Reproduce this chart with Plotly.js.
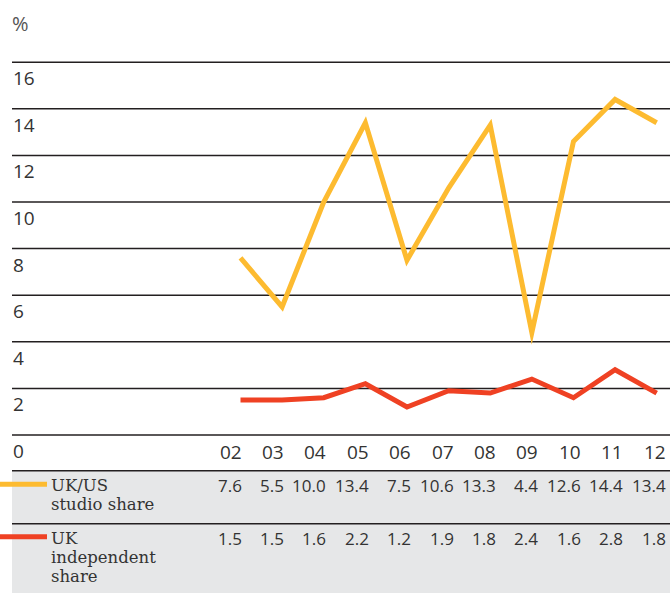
<!DOCTYPE html>
<html>
<head>
<meta charset="utf-8">
<script src="https://cdn.plot.ly/plotly-3.0.1.min.js"></script>
<style>
html,body{margin:0;padding:0;background:#fff;}
#chart{width:670px;height:593px;}
.scatterlayer path.js-line{stroke-linejoin:miter !important;stroke-miterlimit:10 !important;stroke-linecap:butt !important;}
</style>
</head>
<body>
<div id="chart"></div>
<script>
// ---- data ----
const years = ["02","03","04","05","06","07","08","09","10","11","12"];
const studioShare = [7.6, 5.5, 10.0, 13.4, 7.5, 10.6, 13.3, 4.4, 12.6, 14.4, 13.4];
const independentShare = [1.5, 1.5, 1.6, 2.2, 1.2, 1.9, 1.8, 2.4, 1.6, 2.8, 1.8];
const yTicks = [0, 2, 4, 6, 8, 10, 12, 14, 16];
const seriesNames = [["UK/US", "studio share"], ["UK", "independent", "share"]];

// ---- layout helpers ----
const W = 670, H = 593;
const ORANGE = "#FDBB30", RED = "#EF4123", GRID = "#231f20", TXT = "#333333", GRAY = "#e6e7e8";
const numFont = {family: "Open Sans, Lato, sans-serif", size: 19, color: TXT};
const tabFont = {family: "Open Sans, Lato, sans-serif", size: 17, color: TXT};
const serifFont = {family: "DejaVu Serif, Liberation Serif, serif", size: 16.5, color: TXT};
const px = x => x / W;            // pixel x -> paper
const py = y => 1 - y / H;        // pixel y -> paper
const colRight = i => px(243.5 + 42.4 * i);

const idx = years.map((_, i) => i);

const traces = [
  {x: idx, y: studioShare, type: "scatter", mode: "lines", line: {color: ORANGE, width: 5}, hoverinfo: "skip"},
  {x: idx, y: independentShare, type: "scatter", mode: "lines", line: {color: RED, width: 5}, hoverinfo: "skip"}
];

const shapes = [];
const annotations = [];

// table background & separators
shapes.push({type: "rect", xref: "paper", yref: "paper", x0: px(12), x1: 1, y0: 0, y1: py(470.7), fillcolor: GRAY, line: {width: 0}, layer: "below"});
[470.7, 523.7].forEach(y => shapes.push({type: "line", xref: "paper", yref: "paper", x0: px(12), x1: 1, y0: py(y), y1: py(y), line: {color: GRID, width: 1.5}}));

// gridlines and y labels
yTicks.forEach(v => {
  shapes.push({type: "line", xref: "paper", yref: "y", x0: px(12), x1: 1, y0: v, y1: v, line: {color: GRID, width: 1.5}, layer: "below"});
  annotations.push({xref: "paper", yref: "y", x: px(10.5), y: v, yshift: -16, text: String(v), showarrow: false, xanchor: "left", yanchor: "middle", font: numFont});
});
annotations.push({xref: "paper", yref: "paper", x: px(10), y: py(24), text: "%", showarrow: false, xanchor: "left", yanchor: "middle", font: {family: numFont.family, size: 20, color: "#555"}});

// x labels and table values
years.forEach((yr, i) => {
  annotations.push({xref: "paper", yref: "paper", x: colRight(i), y: py(452), text: yr, showarrow: false, xanchor: "right", yanchor: "middle", font: numFont});
  annotations.push({xref: "paper", yref: "paper", x: colRight(i), y: py(486), text: studioShare[i].toFixed(1), showarrow: false, xanchor: "right", yanchor: "middle", font: tabFont});
  annotations.push({xref: "paper", yref: "paper", x: colRight(i), y: py(538), text: independentShare[i].toFixed(1), showarrow: false, xanchor: "right", yanchor: "middle", font: tabFont});
});

// legend swatches and labels
[[ORANGE, 484.3, seriesNames[0]], [RED, 536.7, seriesNames[1]]].forEach(([c, y, lines]) => {
  shapes.push({type: "line", xref: "paper", yref: "paper", x0: 0, x1: px(47), y0: py(y), y1: py(y), line: {color: c, width: 5}});
  lines.forEach((t, k) => {
    annotations.push({xref: "paper", yref: "paper", x: px(49), y: py(y + 1.5 + k * 19), text: t, showarrow: false, xanchor: "left", yanchor: "middle", font: serifFont});
  });
});

const kY = 23.3, kX = 41.62;
const yMin = -(H - 435) / kY, yMax = yMin + H / kY;
const xMin = -240.5 / kX, xMax = xMin + W / kX;

const layout = {
  width: W, height: H,
  margin: {l: 0, r: 0, t: 0, b: 0},
  paper_bgcolor: "#fff", plot_bgcolor: "rgba(0,0,0,0)",
  showlegend: false,
  xaxis: {range: [xMin, xMax], showgrid: false, zeroline: false, showticklabels: false, fixedrange: true},
  yaxis: {range: [yMin, yMax], showgrid: false, zeroline: false, showticklabels: false, fixedrange: true},
  shapes: shapes,
  annotations: annotations
};

Plotly.newPlot("chart", traces, layout, {displayModeBar: false, staticPlot: true});
</script>
</body>
</html>
